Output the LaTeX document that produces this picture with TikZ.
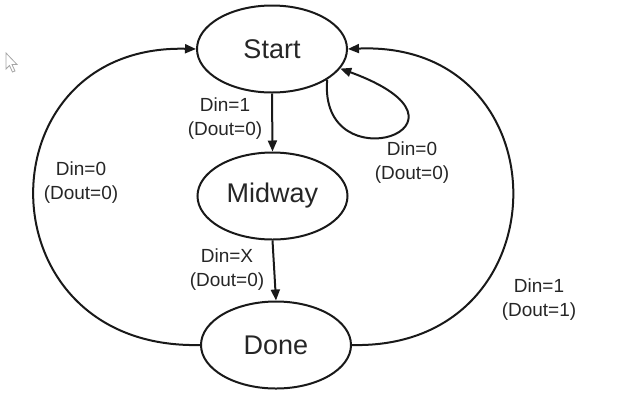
\documentclass[tikz,border=0pt]{standalone}
\usepackage{fontspec}
\setmainfont{Liberation Sans}
\usetikzlibrary{shapes.geometric,arrows.meta}
\begin{document}
\begin{tikzpicture}[x=1bp,y=-1bp,
  state/.style={draw=black!90, line width=2bp, ellipse, inner sep=0pt,
    minimum width=150bp, minimum height=87bp, font=\fontsize{27bp}{30bp}\selectfont, text=black!85},
  lbl/.style={align=center, inner sep=0pt, font=\fontsize{19bp}{24bp}\selectfont, text=black!85},
  conn/.style={draw=black!90, line width=2bp, -{Triangle[length=11bp,width=9bp]}}]
\useasboundingbox (0,0) rectangle (641,407);
% cursor
\draw[gray!70, line width=0.8bp, fill=white] (6,53) -- (6,69) -- (9.5,65.5) -- (12.5,72) -- (15,71) -- (12,64.5) -- (17,64.5) -- cycle;
\node[state] (start) at (272,49) {Start};
\node[state] (mid) at (272.5,196) {Midway};
\node[state] (done) at (276,345) {Done};
\draw[conn] (start.south) -- (mid.north);
\draw[conn] (mid.south) -- (done.north);
\draw[conn] (done.west) .. controls (-20,350) and (-20,44) .. (start.west);
\draw[conn] (done.east) .. controls (566,350) and (566,40) .. (start.east);
\draw[conn] (start.-29) .. controls (318,186) and (498,126) .. (start.-16);
\node[lbl] (l1) at (225,119) {Din=1\\(Dout=0)};
\node[lbl] (l2) at (227,270) {Din=X\\(Dout=0)};
\node[lbl] (l3) at (81,183) {Din=0\\(Dout=0)};
\node[lbl] (l4) at (412,163) {Din=0\\(Dout=0)};
\node[lbl] (l5) at (539,300) {Din=1\\(Dout=1)};
\end{tikzpicture}
\end{document}
